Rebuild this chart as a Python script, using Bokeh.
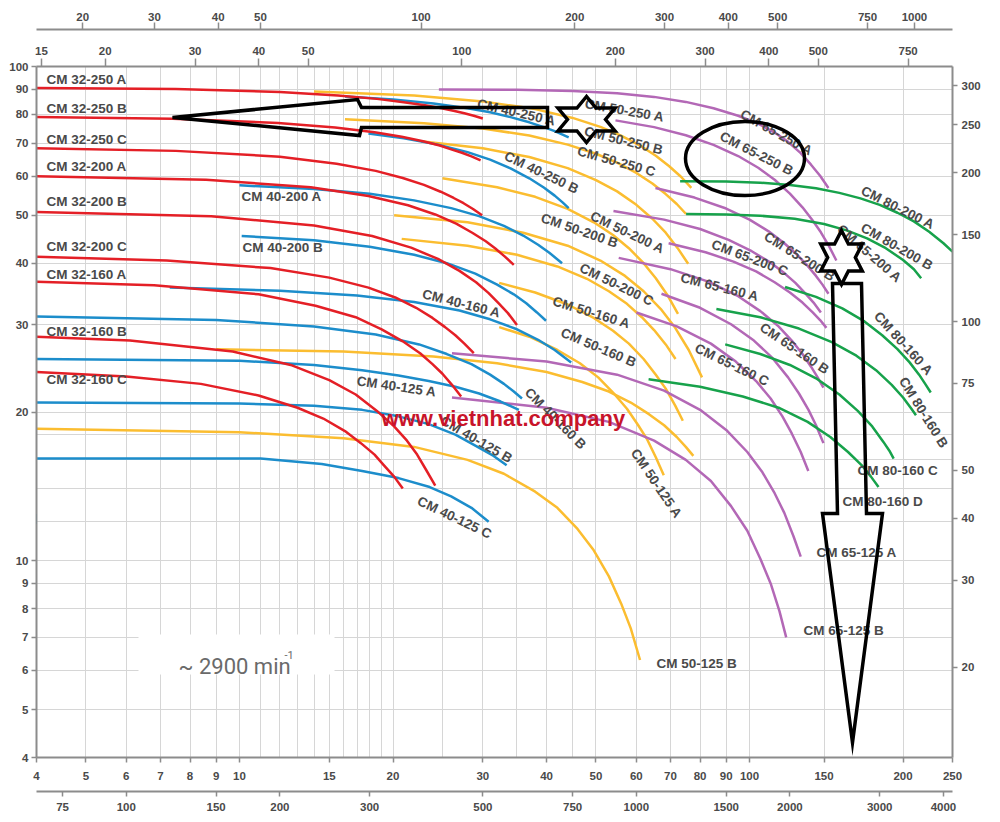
import math
from bokeh.plotting import figure
from bokeh.models import (LogAxis, Range1d, FixedTicker, Label, ColumnDataSource,
                          LogScale, NumeralTickFormatter)
from bokeh.core.properties import value
from bokeh.embed import file_html
from bokeh.resources import INLINE

# ---------------- data (Q in m3/h, H in m) ----------------
RED_NAMES = ["CM 32-250 A", "CM 32-250 B", "CM 32-250 C", "CM 32-200 A", "CM 32-200 B",
             "CM 32-200 C", "CM 32-160 A", "CM 32-160 B", "CM 32-160 C"]
RED_Q = [[4, 7.5, 12, 15.6, 18.6, 21, 23.1, 24.9, 26.4, 27.6, 28.8, 30],
         [4, 7.4, 11.9, 15.4, 18.4, 20.8, 22.9, 24.7, 26.1, 27.3, 28.5, 29.7],
         [4, 7.5, 12, 15.5, 18.5, 20.9, 23, 24.8, 26.3, 27.5, 28.7, 29.9],
         [4, 8.6, 13.8, 17.9, 21.4, 24.2, 26.6, 28.6, 30.4, 31.7, 33.1, 34.5],
         [4, 8.8, 14, 18.2, 21.7, 24.5, 27, 29.1, 30.8, 32.2, 33.6, 35],
         [4, 7.2, 11.5, 15, 17.9, 20.2, 22.2, 23.9, 25.3, 26.5, 27.6, 28.8],
         [4, 6.8, 10.9, 14.1, 16.9, 19, 20.9, 22.6, 23.9, 25, 26.1, 27.2],
         [4, 6.1, 9.7, 12.6, 15, 16.9, 18.6, 20.1, 21.3, 22.3, 23.2, 24.2],
         [4, 6, 8.4, 10.9, 13, 14.6, 16.1, 17.3, 18.4, 19.2, 20.1, 20.9]]
RED_H = [[90.5, 90.0, 88.8, 87.4, 86.0, 84.7, 83.5, 82.3, 81.3, 80.4, 79.5, 78.5],
         [79.0, 78.4, 76.9, 75.3, 73.6, 72.1, 70.6, 69.2, 67.9, 66.9, 65.8, 64.6],
         [68.3, 67.5, 65.7, 63.6, 61.5, 59.5, 57.6, 55.8, 54.2, 52.9, 51.5, 50.0],
         [60.0, 59.0, 57.0, 54.7, 52.4, 50.2, 48.1, 46.1, 44.3, 42.9, 41.3, 39.7],
         [50.8, 49.8, 47.7, 45.4, 43.0, 40.8, 38.6, 36.6, 34.8, 33.2, 31.7, 30.0],
         [41.2, 40.5, 39.1, 37.4, 35.7, 34.1, 32.5, 31.0, 29.7, 28.6, 27.5, 26.3],
         [36.7, 36.1, 34.6, 32.8, 31.1, 29.4, 27.8, 26.3, 25.0, 23.9, 22.7, 21.5],
         [28.4, 27.9, 26.5, 24.9, 23.2, 21.7, 20.1, 18.7, 17.5, 16.4, 15.3, 14.2],
         [24.1, 23.6, 22.8, 21.6, 20.4, 19.4, 18.3, 17.3, 16.4, 15.6, 14.8, 14.0]]

BLUE_NAMES = ["CM 40-250 A", "CM 40-250 B", "CM 40-200 A", "CM 40-200 B", "CM 40-160 A",
              "CM 40-160 B", "CM 40-125 A", "CM 40-125 B", "CM 40-125 C"]
BLUE_Q = [[16.1, 20, 24, 28, 31, 34, 37, 39.5, 41.5, 43, 44.2],
          [17.9, 21, 24.5, 28, 31, 34, 37, 39.5, 41.5, 43, 44.2],
          [10, 14, 18, 22, 26, 29.5, 33, 36, 38.5, 40.5, 42.9],
          [10.1, 14, 18, 22, 25.5, 29, 32, 34.5, 36.5, 38.3, 39.9],
          [7.3, 12, 17, 22, 27, 31, 35, 38.5, 41.5, 44.7],
          [4, 9, 14, 18.5, 22.5, 25.5, 28.5, 31, 33, 34.5, 35.8],
          [4, 10, 14, 17.4, 20.5, 23.5, 26.5, 29.5, 32.5, 35.3],
          [4, 10, 14, 17.4, 20.5, 23.5, 26.5, 29, 31.5, 33.4],
          [4, 11, 14.5, 17.4, 20.5, 23.6, 26, 28.5, 30.8]]
BLUE_H = [[87.0, 85.8, 84.2, 82.3, 80.8, 79.0, 77.1, 75.4, 74.0, 72.8, 71.9],
          [73.2, 71.6, 69.5, 67.1, 64.8, 62.2, 59.4, 56.9, 54.8, 53.1, 51.7],
          [57.5, 56.5, 55.3, 53.6, 51.7, 49.8, 47.6, 45.5, 43.6, 42.0, 40.0],
          [45.4, 44.5, 43.2, 41.6, 40.0, 38.1, 36.2, 34.6, 33.2, 31.8, 30.6],
          [35.7, 35.2, 34.4, 33.4, 32.1, 30.8, 29.4, 28.0, 26.7, 25.2],
          [31.2, 30.7, 29.8, 28.7, 27.4, 26.2, 25.0, 23.8, 22.8, 22.0, 21.3],
          [25.6, 25.4, 24.9, 24.3, 23.7, 23.1, 22.5, 21.8, 21.0, 20.2],
          [20.9, 20.8, 20.6, 20.2, 19.6, 18.9, 18.0, 17.1, 16.3, 15.6],
          [16.1, 16.1, 15.7, 15.2, 14.7, 14.1, 13.5, 12.8, 12.0]]

YELLOW_NAMES = ["CM 50-250 A", "CM 50-250 B", "CM 50-250 C", "CM 50-200 A", "CM 50-200 B",
                "CM 50-200 C", "CM 50-160 A", "CM 50-160 B", "CM 50-125 A", "CM 50-125 B"]
YELLOW_Q = [[14, 22, 30, 38, 45, 51, 56, 61, 65.5, 69.5, 73.3, 76.9],
            [16.1, 23, 30, 37, 44, 50, 55, 60, 64.5, 68.5, 72, 75.1],
            [22.7, 30, 37, 44, 50, 55, 60, 64.5, 68.5, 72.3, 75.8],
            [25, 32, 38, 44, 49.5, 54, 58, 62, 65.5, 69, 72.4],
            [20.1, 28, 36, 44, 51, 57, 62, 67, 71.5, 76, 80.7],
            [20.8, 28, 35, 42, 48, 53, 57.5, 61.5, 65, 68.5, 71.6],
            [32.3, 38, 44, 49.5, 54, 58, 62, 65.5, 68.5, 71.5, 74],
            [9, 16, 24, 32, 40, 47, 53, 58.5, 63.5, 68, 72, 75, 77.6],
            [32.3, 37, 42, 46.5, 50.5, 54, 57.5, 60.5, 63, 65.5, 67.9],
            [4, 10, 16, 22, 28, 33, 38, 42, 46, 49.5, 53, 56, 58.5, 61]]
YELLOW_H = [[89.0, 87.4, 85.0, 82.0, 78.7, 75.5, 72.5, 69.2, 66.0, 62.9, 59.9, 56.8],
            [78.2, 76.8, 74.9, 72.5, 69.5, 66.6, 63.9, 60.9, 58.0, 55.2, 52.7, 50.3],
            [70.6, 68.3, 65.6, 62.3, 58.9, 55.9, 52.5, 49.2, 46.1, 42.9, 39.9],
            [59.4, 57.0, 54.5, 51.5, 48.4, 45.6, 42.9, 40.0, 37.3, 34.5, 31.6],
            [50.0, 48.4, 46.1, 43.4, 40.5, 37.7, 35.1, 32.3, 29.6, 26.7, 23.5],
            [44.8, 43.4, 41.6, 39.4, 37.2, 35.1, 33.1, 31.1, 29.3, 27.4, 25.6],
            [36.5, 34.9, 33.0, 31.0, 29.2, 27.5, 25.6, 23.8, 22.3, 20.6, 19.2],
            [26.8, 26.5, 25.9, 25.1, 24.1, 23.0, 22.0, 20.9, 19.8, 18.8, 17.8, 17.0, 16.3],
            [29.7, 28.4, 26.7, 25.1, 23.5, 21.9, 20.3, 18.8, 17.6, 16.2, 14.9],
            [18.5, 18.2, 17.7, 17.0, 16.0, 15.0, 13.8, 12.8, 11.6, 10.5, 9.3, 8.2, 7.3, 6.3]]

PURPLE_NAMES = ["CM 65-250 A", "CM 65-250 B", "CM 65-200 A", "CM 65-200 B", "CM 65-200 C",
                "CM 65-160 A", "CM 65-160 B", "CM 65-160 C", "CM 65-125 A", "CM 65-125 B"]
PURPLE_Q = [[24.6, 35, 45, 55, 65, 75, 85, 95, 104, 112, 119, 126, 132, 137.5, 142.8],
            [54.6, 65, 75, 85, 95, 104, 112, 120, 127, 133, 138, 143, 148],
            [65.4, 78, 90, 100, 109, 117, 124, 130, 135, 139, 142.8],
            [54.1, 68, 80, 91, 101, 110, 117, 123, 128.5, 133.5, 138],
            [69.4, 82, 93, 103, 112, 120, 127, 133, 137.5, 141.5],
            [55.4, 70, 83, 95, 105, 114, 121, 127, 132, 136, 139.6],
            [67.2, 80, 92, 102, 111, 119, 125, 130.5, 135, 139.6],
            [60, 72, 84, 94, 103, 110, 116, 121, 126, 130.4],
            [26.1, 40, 55, 68, 80, 90, 99, 106, 112, 117, 122, 126],
            [26.1, 40, 53, 65, 75, 84, 92, 99, 105, 110, 114.5, 118]]
PURPLE_H = [[89.8, 89.7, 89.2, 88.3, 86.8, 84.8, 82.3, 79.5, 76.6, 73.5, 70.4, 66.8, 63.3, 60.1, 56.8],
            [77.8, 75.4, 72.6, 69.4, 65.9, 62.4, 59.0, 55.3, 51.9, 48.8, 46.2, 43.4, 40.5],
            [56.8, 54.3, 51.6, 49.0, 46.4, 43.9, 41.6, 39.5, 37.7, 36.2, 34.7],
            [51.0, 49.0, 46.9, 44.6, 42.3, 40.1, 38.2, 36.5, 34.8, 33.3, 31.8],
            [43.9, 42.1, 40.3, 38.5, 36.6, 34.9, 33.3, 31.8, 30.7, 29.6],
            [41.0, 38.9, 36.7, 34.3, 32.0, 29.8, 27.9, 26.2, 24.7, 23.5, 22.4],
            [34.7, 32.5, 30.1, 27.9, 25.7, 23.5, 21.8, 20.2, 18.8, 17.3],
            [31.8, 29.8, 27.5, 25.3, 23.1, 21.3, 19.6, 18.1, 16.6, 15.2],
            [26.3, 25.3, 23.8, 22.1, 20.2, 18.4, 16.6, 15.1, 13.7, 12.5, 11.2, 10.2],
            [21.4, 20.4, 19.1, 17.5, 16.0, 14.5, 12.9, 11.5, 10.1, 9.0, 7.9, 7.0]]

GREEN_NAMES = ["CM 80-200 A", "CM 80-200 B", "CM 80-160 A", "CM 80-160 B", "CM 80-160 C",
               "CM 80-160 D"]
GREEN_Q = [[73.1, 90, 105, 120, 135, 150, 165, 180, 195, 210, 225, 240, 250],
           [75.1, 90, 105, 122.6, 140, 155, 170, 185, 200, 210, 217],
           [117.4, 135, 152, 168, 182, 195, 206, 215, 221, 226.6],
           [86.1, 105, 125, 145, 162, 177, 190, 200, 207, 212],
           [89.6, 105, 120, 135, 150, 163, 174, 183, 188, 191.7],
           [63.4, 80, 97, 114, 130, 144, 156, 166, 173, 179]]
GREEN_H = [[58.6, 58.5, 58.2, 57.6, 56.7, 55.5, 54.1, 52.5, 50.6, 48.6, 46.3, 43.9, 42.2],
           [50.3, 50.2, 49.9, 49.2, 48.0, 46.6, 44.9, 42.9, 40.6, 38.9, 37.3],
           [35.8, 34.2, 32.4, 30.5, 28.6, 26.8, 25.2, 23.8, 22.8, 21.9],
           [32.3, 31.1, 29.5, 27.7, 26.0, 24.3, 22.7, 21.4, 20.4, 19.7],
           [27.4, 26.2, 24.9, 23.4, 21.7, 20.1, 18.7, 17.4, 16.7, 16.1],
           [23.3, 22.5, 21.5, 20.4, 19.1, 17.8, 16.6, 15.6, 14.8, 14.1]]

# axis ticks
Q_TICKS = [4, 5, 6, 7, 8, 9, 10, 15, 20, 30, 40, 50, 60, 70, 80, 90, 100, 140, 200, 250]
Q_LABELS = ["4", "5", "6", "7", "8", "9", "10", "15", "20", "30", "40", "50", "60", "70",
            "80", "90", "100", "150", "200", "250"]
LMIN_TICKS = [75, 100, 150, 200, 300, 500, 750, 1000, 1500, 2000, 3000, 4000]
UK_TICKS = [15, 20, 30, 40, 50, 100, 200, 300, 400, 500, 750]
US_TICKS = [21.7, 30, 40, 48.4, 100, 200, 300, 400, 500, 750, 927]
US_LABELS = ["20", "30", "40", "50", "100", "200", "300", "400", "500", "750", "1000"]
H_TICKS = [4, 5, 6, 7, 8, 9, 10, 20, 30, 40, 50, 60, 70, 80, 90, 100]
FT_TICKS = [20, 30, 40, 50, 75, 100, 150, 200, 250, 300]
X_GRID = [4, 5, 6, 7, 8, 9, 10, 11, 12, 13, 14, 15, 16, 17, 18, 19, 20, 25, 30, 35, 40, 45,
          50, 60, 70, 80, 90, 100, 140, 200, 250]
Y_GRID = [4, 5, 6, 7, 8, 9, 10, 12, 14, 16, 18, 20, 30, 40, 50, 60, 70, 80, 90, 100]

# unit conversions
M3H_TO_LMIN = 1000.0 / 60.0
M3H_TO_UKGPM = M3H_TO_LMIN / 4.54609
M3H_TO_USGPM = M3H_TO_LMIN / 3.785411
M_TO_FT = 3.28084

# ---------------- layout helpers (page pixels -> data, for annotations) ----------------
X0, Y0, FW, FH = 37, 66, 916, 691
DX = FW / math.log10(250 / 4)
DY = FH / math.log10(100 / 4)


def qx(px):
    return 4 * 10 ** ((px - X0) / DX)


def hy(py):
    return 100 * 10 ** (-(py - Y0) / DY)


TXT = "#4a4a4a"
AX = "#8c8c8c"
FONT = "Liberation Sans"

p = figure(x_axis_type="log", y_axis_type="log",
           x_range=Range1d(4, 250), y_range=Range1d(4, 100),
           frame_width=FW, frame_height=FH,
           min_border_left=36, min_border_right=39, min_border_top=66, min_border_bottom=57,
           output_backend="svg", toolbar_location=None)
p.background_fill_color = "white"
p.border_fill_color = "white"
p.outline_line_color = None

p.extra_x_ranges = {"uk": Range1d(4 * M3H_TO_UKGPM, 250 * M3H_TO_UKGPM),
                    "us": Range1d(4 * M3H_TO_USGPM, 250 * M3H_TO_USGPM),
                    "lmin": Range1d(4 * M3H_TO_LMIN, 250 * M3H_TO_LMIN)}
p.extra_x_scales = {"uk": LogScale(), "us": LogScale(), "lmin": LogScale()}
p.extra_y_ranges = {"ft": Range1d(4 * M_TO_FT, 100 * M_TO_FT)}
p.extra_y_scales = {"ft": LogScale()}


def style_axis(ax, ticks, labels=None, tick_out=5, standoff=3):
    ax.ticker = FixedTicker(ticks=ticks)
    ax.formatter = NumeralTickFormatter(format="0")
    labels = labels or [str(t) for t in ticks]
    ax.major_label_overrides = {t: l for t, l in zip(ticks, labels)}
    ax.axis_line_color = AX
    ax.axis_line_width = 2
    ax.major_tick_line_color = AX
    ax.major_tick_line_width = 1.5
    ax.major_tick_out = tick_out
    ax.major_tick_in = 0
    ax.minor_tick_line_color = None
    ax.major_label_standoff = standoff
    ax.major_label_text_font = FONT
    ax.major_label_text_font_style = "bold"
    ax.major_label_text_font_size = "11.5px"
    ax.major_label_text_color = TXT


# bottom m3/h
xa = p.xaxis[0]
style_axis(xa, Q_TICKS, Q_LABELS, tick_out=5, standoff=9)
xa.axis_label = " "
xa.axis_label_standoff = 0
xa.axis_label_text_font_size = "6px"
# left m
ya = p.yaxis[0]
style_axis(ya, H_TICKS, tick_out=5, standoff=3)

lm_ax = LogAxis(x_range_name="lmin")
style_axis(lm_ax, LMIN_TICKS, tick_out=5, standoff=6)
p.add_layout(lm_ax, "below")

uk_ax = LogAxis(x_range_name="uk")
style_axis(uk_ax, UK_TICKS, tick_out=8, standoff=4)
uk_ax.axis_label = " "
uk_ax.axis_label_standoff = 0
uk_ax.axis_label_text_font_size = "10px"
p.add_layout(uk_ax, "above")

us_ax = LogAxis(x_range_name="us")
style_axis(us_ax, US_TICKS, US_LABELS, tick_out=7, standoff=2)
p.add_layout(us_ax, "above")

ft_ax = LogAxis(y_range_name="ft")
style_axis(ft_ax, FT_TICKS, tick_out=5, standoff=4)
p.add_layout(ft_ax, "right")

p.xgrid.ticker = FixedTicker(ticks=X_GRID)
p.ygrid.ticker = FixedTicker(ticks=Y_GRID)
p.xgrid.grid_line_color = "#d6d6d6"
p.ygrid.grid_line_color = "#d6d6d6"
p.xgrid.grid_line_width = 1
p.ygrid.grid_line_width = 1

# white box behind speed note
p.quad(left=[qx(139)], right=[qx(335)], top=[hy(634)], bottom=[hy(674)],
       fill_color="white", line_color=None)

# ---------------- curves ----------------
FAMILIES = [(YELLOW_Q, YELLOW_H, "#fbbd30"),
            (PURPLE_Q, PURPLE_H, "#b368b6"),
            (GREEN_Q, GREEN_H, "#17a24b"),
            (BLUE_Q, BLUE_H, "#1c8dcb"),
            (RED_Q, RED_H, "#e41f26")]
for qs, hs, col in FAMILIES:
    p.multi_line(xs=qs, ys=hs, line_color=col, line_width=2.5, line_join="round")

# ---------------- curve labels ----------------
HLAB = [("CM 32-250 A", 47, 79), ("CM 32-250 B", 47, 107.5), ("CM 32-250 C", 47, 139),
        ("CM 32-200 A", 47, 166), ("CM 32-200 B", 47, 201), ("CM 32-200 C", 47, 246),
        ("CM 32-160 A", 47, 274), ("CM 32-160 B", 47, 331), ("CM 32-160 C", 47, 379),
        ("CM 40-200 A", 242, 196), ("CM 40-200 B", 243, 246.5),
        ("CM 80-160 C", 858, 470), ("CM 80-160 D", 843, 501), ("CM 65-125 A", 817, 552),
        ("CM 65-125 B", 804, 630), ("CM 50-125 B", 657, 663)]
RLAB = [("CM 40-250 A", 517, 112, 13), ("CM 50-250 A", 625, 110, 10),
        ("CM 50-250 B", 624, 140, 14), ("CM 50-250 C", 617, 161, 15.5),
        ("CM 40-250 B", 542, 172, 25.5), ("CM 65-250 A", 777, 132, 29),
        ("CM 65-250 B", 757, 153, 27), ("CM 50-200 B", 580, 230, 19),
        ("CM 50-200 A", 628, 232, 25.5), ("CM  65-200 C", 752, 258, 20.5),
        ("CM 65-200 B", 800, 256, 32), ("CM 65-200 A", 870, 253, 41),
        ("CM  80-200 A", 900, 208, 26.6), ("CM  80-200 B", 899, 247, 30),
        ("CM 50-200 C", 617, 284, 26), ("CM  65-160 A", 722, 287, 14),
        ("CM 50-160 A", 592, 312, 17), ("CM 40-160 A", 462, 303, 14.3),
        ("CM 65-160 B", 795, 348, 34), ("CM 80-160 A", 904, 343, 48),
        ("CM 50-160 B", 599, 347, 23), ("CM  65-160 C", 734, 365, 26),
        ("CM 80-160 B", 924, 412, 58), ("CM 40-125 A", 397, 386, 8.3),
        ("CM 40-160 B", 556, 418, 45), ("CM 40-125 B", 477, 439, 30),
        ("CM 40-125 C", 455, 517, 25.5), ("CM 50-125 A", 657, 483, 56)]

hsrc = ColumnDataSource(dict(x=[qx(a) for _, a, _ in HLAB], y=[hy(b) for _, _, b in HLAB],
                             text=[t for t, _, _ in HLAB]))
p.text(x="x", y="y", text="text", source=hsrc, text_font=value(FONT), text_font_style="bold",
       text_font_size="13.5px", text_color=TXT, text_align="left", text_baseline="middle")
rsrc = ColumnDataSource(dict(x=[qx(a) for _, a, _, _ in RLAB], y=[hy(b) for _, _, b, _ in RLAB],
                             text=[t for t, _, _, _ in RLAB],
                             angle=[-g for _, _, _, g in RLAB]))
p.text(x="x", y="y", text="text", angle="angle", angle_units="deg", source=rsrc,
       text_font=value(FONT), text_font_style="bold", text_font_size="13.5px",
       text_color=TXT, text_align="center", text_baseline="middle")

# watermark
p.add_layout(Label(x=qx(382), y=hy(418), text="www.vietnhat.company", text_font=FONT,
                   text_font_size="22px", text_font_style="bold", text_color="#c8142a",
                   text_align="left", text_baseline="alphabetic"))
# speed note
p.add_layout(Label(x=qx(179), y=hy(666), text="~ 2900 min", text_font="Roboto",
                   text_font_size="22px", text_color="#6a6a6a", text_align="left",
                   text_baseline="alphabetic"))
p.add_layout(Label(x=qx(285), y=hy(654), text="-1", text_font="Roboto",
                   text_font_size="11px", text_color="#6a6a6a", text_align="left",
                   text_baseline="alphabetic"))

# inline axis titles
for txt, px, py, al in [("Q [gal(US)/min]", 288, 17, "left"), ("Q [gal(UK)/min]", 330, 52, "left"),
                        ("Q (m\u00b3/h)", 414, 777, "left"), ("Q (l/min)", 413, 809, "left"),
                        ("H [m]", 37, 517, "right"), ("H [ft]", 960, 622, "left")]:
    p.add_layout(Label(x=qx(px), y=hy(py), text=txt, text_font=FONT, text_font_style="bold",
                       text_font_size="11.5px", text_color=TXT, text_align=al,
                       text_baseline="middle"))

# ---------------- hand-drawn marks on the sheet ----------------
def to_data(pts):
    return [qx(a) for a, _ in pts], [hy(b) for _, b in pts]


def hexagram(cx, cy, rx, ry):
    pts = []
    for i in range(12):
        ang = math.radians(90 + 30 * i)
        f = 1.0 if i % 2 == 0 else 1 / math.sqrt(3)
        pts.append((cx + rx * f * math.cos(ang), cy - ry * f * math.sin(ang)))
    return pts


LEFT_ARROW = [(173, 117), (358, 99), (362, 107), (548, 107), (548, 127), (362, 127), (360, 135)]
DOWN_ARROW = [(833, 283), (862, 283), (867, 513), (883, 513), (853, 742), (823, 513), (838, 513)]
shapes = [LEFT_ARROW, DOWN_ARROW, hexagram(587, 119, 33, 23), hexagram(842, 257, 24, 27)]
xs, ys = zip(*[to_data(s) for s in shapes])
p.patches(xs=list(xs), ys=list(ys), fill_color=None, line_color="black", line_width=3.5,
          line_join="miter")
p.ellipse(x=[qx(745.5)], y=[hy(158)], width=[119], height=[74], width_units="screen",
          height_units="screen", fill_color=None, line_color="black", line_width=3.5)

open("out.html", "w").write(file_html(p, INLINE))
